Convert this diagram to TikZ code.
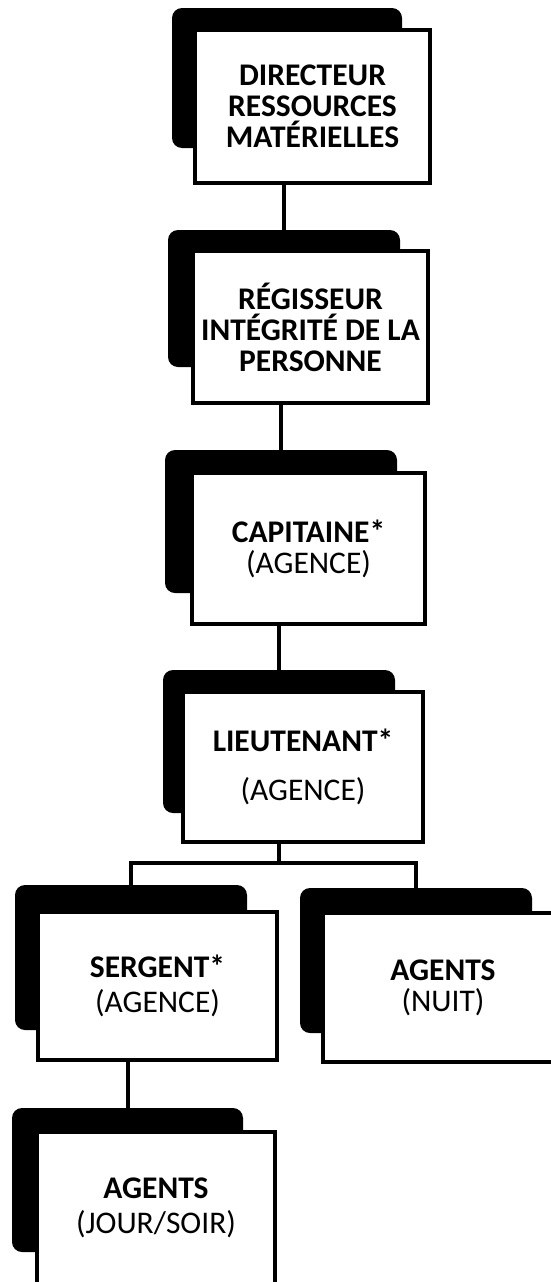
\documentclass[tikz,border=0pt]{standalone}
\usepackage{fontspec}
\setmainfont{Carlito}
\usetikzlibrary{calc}
\tikzset{
  orgbox/.style={draw=black, line width=3.5pt, fill=white, rectangle, inner sep=0pt,
    align=center, font=\fontsize{31.5}{31}\selectfont},
  shadowbox/.style={fill=black, draw=none, rounded corners=10pt, rectangle, inner sep=0pt},
  link/.style={draw=black, line width=4pt}
}
\begin{document}
\begin{tikzpicture}[x=1pt,y=-1pt]
\useasboundingbox (0,0) rectangle (550,1282);
% shadows
\node[shadowbox, minimum width=230pt, minimum height=140pt] (s1) at (287,78) {};
\node[shadowbox, minimum width=232pt, minimum height=137pt] (s2) at (284,298.5) {};
\node[shadowbox, minimum width=232pt, minimum height=143pt] (s3) at (281,521.5) {};
\node[shadowbox, minimum width=232pt, minimum height=143pt] (s4) at (279,741.5) {};
\node[shadowbox, minimum width=232pt, minimum height=145pt] (s5) at (131,957.5) {};
\node[shadowbox, minimum width=232pt, minimum height=145pt] (s6) at (416,960.5) {};
\node[shadowbox, minimum width=231pt, minimum height=144pt] (s7) at (127.5,1180) {};
% boxes
\node[orgbox, minimum width=235pt, minimum height=153pt] (b1) at (312.5,106.5)
  {\bfseries DIRECTEUR\\ \bfseries RESSOURCES\\ \bfseries MATÉRIELLES};
\node[orgbox, minimum width=235pt, minimum height=152pt] (b2) at (310.5,327)
  {\bfseries RÉGISSEUR\\ \bfseries INTÉGRITÉ DE LA\\ \bfseries PERSONNE};
\node[orgbox, minimum width=233pt, minimum height=151pt] (b3) at (308.5,548.5)
  {\bfseries CAPITAINE*\\ (AGENCE)};
\node[orgbox, minimum width=240pt, minimum height=150pt] (b4) at (303,767)
  {\bfseries LIEUTENANT*\\[18pt] (AGENCE)};
\node[orgbox, minimum width=239pt, minimum height=148pt] (b5) at (157.5,986)
  {\bfseries SERGENT*\\[4pt] (AGENCE)};
\node[orgbox, minimum width=240pt, minimum height=149pt] (b6) at (443,987.5)
  {\bfseries AGENTS\\ (NUIT)};
\node[orgbox, minimum width=238pt, minimum height=152pt] (b7) at (156,1208)
  {\bfseries AGENTS\\[4pt] (JOUR/SOIR)};
% connectors
\draw[link] (b1.south -| s2.north) -- (s2.north);
\draw[link] (b2.south -| s3.north) -- (s3.north);
\draw[link] (b3.south -| s4.north) -- (s4.north);
\coordinate (j) at (279,863);
\draw[link] (b4.south -| j) -- (j);
\draw[link] (s5.north) |- (j) -| (s6.north);
\draw[link] (b5.south -| s7.north) -- (s7.north);
\end{tikzpicture}
\end{document}
